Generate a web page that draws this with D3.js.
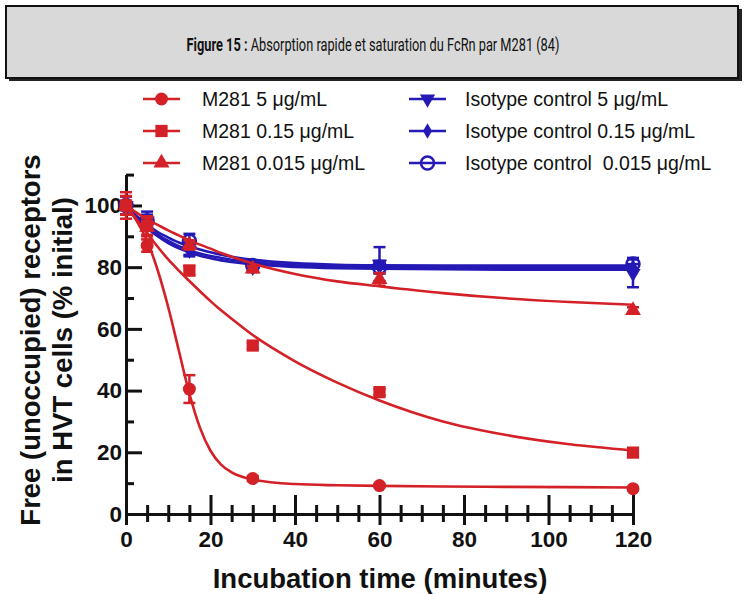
<!DOCTYPE html>
<html lang="en">
<head>
<meta charset="UTF-8">
<script src="https://cdn.jsdelivr.net/npm/d3@7"></script>
<title>Figure 15</title>
<style>
  body { margin: 0; background: #fff; }
  svg { display: block; }
</style>
</head>
<body>
<svg id="mainsvg" width="746" height="594"></svg>
<script>
  // measured points
  const times = [0, 5, 15, 30, 60, 120]
  const m281_5 = [100, 87, 40.5, 11.5, 9.2, 8.2]
  const m281_015 = [100, 93.5, 78.9, 54.6, 39.5, 19.9]
  const m281_0015 = [100, 93, 87.2, 79.4, 76, 66]
  const iso_5 = [100, 95, 85.5, 80, 81, 78]
  const iso_015 = [100, 94, 86, 80, 80, 80]
  const iso_0015 = [100, 95, 88.5, 80.5, 80, 81]
  // error bars (+/-)
  const err_m281_5 = [4.3, 2, 4.5, 0.8, 0.5, 0.5]
  const err_m281_015 = [3, 3, 1.5, 1, 1, 1]
  const err_m281_0015 = [3, 3, 1.5, 1, 2, 1]
  const err_iso_5 = [3, 3, 2, 1.5, 5.5, 4.5]
  const err_iso_015 = [3, 2, 2, 1, 2, 1]
  const err_iso_0015 = [3, 2, 2.3, 1.5, 2, 2]
  // fitted curves
  const fitTimes = [0, 2.5, 5, 7.5, 10, 12.5, 15, 17.5, 20, 22.5, 25, 30, 40, 50, 60, 75, 90, 105, 120]
  const fit_m281_5 = [100, 95, 88.5, 79, 67, 53, 39, 28, 20.5, 16, 13.5, 11.2, 9.7, 9.3, 9.1, 8.9, 8.8, 8.7, 8.6]
  const fit_m281_015 = [100, 95.5, 90.9, 86.6, 82.5, 78.9, 75.5, 72.2, 69, 66, 63.3, 58, 49.5, 42.6, 36.8, 30, 25.6, 22.6, 20.6]
  const fit_m281_0015 = [100, 97.7, 95.5, 93.7, 91.9, 90.3, 88.7, 87.3, 86, 84.6, 83.4, 81.2, 77.8, 75.4, 73.8, 71.6, 69.9, 68.7, 67.8]
  const fit_iso_5 = [100, 96, 92.7, 90, 87.8, 86.1, 84.8, 83.7, 82.9, 82.2, 81.7, 80.9, 80.1, 79.7, 79.5, 79.3, 79.2, 79.2, 79.2]
  const fit_iso_015 = [100, 96.3, 93.2, 90.6, 88.5, 86.8, 85.5, 84.4, 83.6, 83, 82.4, 81.6, 80.6, 80.2, 80, 79.9, 79.8, 79.8, 79.8]
  const fit_iso_0015 = [100, 96.6, 93.8, 91.4, 89.6, 88, 86.8, 85.7, 84.8, 84, 83.4, 82.4, 81.3, 80.8, 80.6, 80.5, 80.5, 80.5, 80.5]

  const xMajor = [0, 20, 40, 60, 80, 100, 120]
  const xMinor = d3.range(5, 120, 5).filter(d => d % 20 !== 0)
  const yMajor = [0, 20, 40, 60, 80, 100]
  const yMinor = [10, 30, 50, 70, 90, 110]

  const RED = '#d42027'
  const BLUE = '#2419b4'

  const series = [
    { name: 'Isotype control 5 \u03bcg/mL', v: iso_5, e: err_iso_5, fit: fit_iso_5, color: BLUE, shape: 'down' },
    { name: 'Isotype control 0.15 \u03bcg/mL', v: iso_015, e: err_iso_015, fit: fit_iso_015, color: BLUE, shape: 'diamond' },
    { name: 'Isotype control  0.015 \u03bcg/mL', v: iso_0015, e: err_iso_0015, fit: fit_iso_0015, color: BLUE, shape: 'open' },
    { name: 'M281 5 \u03bcg/mL', v: m281_5, e: err_m281_5, fit: fit_m281_5, color: RED, shape: 'circle' },
    { name: 'M281 0.15 \u03bcg/mL', v: m281_015, e: err_m281_015, fit: fit_m281_015, color: RED, shape: 'square' },
    { name: 'M281 0.015 \u03bcg/mL', v: m281_0015, e: err_m281_0015, fit: fit_m281_0015, color: RED, shape: 'triangle' },
  ]

  const svg = d3.select('#mainsvg')

  // title box
  svg.append('rect').attr('x', 9).attr('y', 9).attr('width', 733).attr('height', 72).attr('fill', '#222')
  svg.append('rect').attr('x', 6).attr('y', 6).attr('width', 732).attr('height', 72)
    .attr('fill', '#d9d9d9').attr('stroke', '#111').attr('stroke-width', 2)
  const titleG = svg.append('g')
  const title = titleG.append('text').attr('x', 0).attr('y', 0).attr('text-anchor', 'middle')
    .attr('font-family', 'Roboto, sans-serif').attr('font-size', 19).attr('fill', '#111')
  title.append('tspan').attr('font-weight', 'bold').text('Figure 15 :')
  title.append('tspan').text(' Absorption rapide et saturation du FcRn par M281 (84)')
  // squeeze to the narrow width of the original title
  const sx = Math.min(1, 373 / title.node().getComputedTextLength())
  titleG.attr('transform', `translate(373,51) scale(${sx},1)`)

  const x = d3.scaleLinear().domain([0, 120]).range([126, 633])
  const y = d3.scaleLinear().domain([0, 110]).range([514, 174.6])
  const font = 'Liberation Sans, Arial, sans-serif'

  // x axis: ticks crossing the line
  const gx = svg.append('g').attr('transform', `translate(0,${y(0)})`)
  gx.append('g').call(d3.axisBottom(x).tickValues(xMajor).tickSizeInner(11).tickSizeOuter(0).tickPadding(6))
  gx.append('g').call(d3.axisTop(x).tickValues(xMajor).tickSize(19).tickFormat(''))
  gx.append('g').call(d3.axisBottom(x).tickValues(xMinor).tickSize(8).tickFormat(''))
  gx.append('g').call(d3.axisTop(x).tickValues(xMinor).tickSize(9).tickFormat(''))

  // y axis: ticks pointing inside
  const gy = svg.append('g').attr('transform', `translate(${x(0)},0)`)
  gy.append('g').call(d3.axisRight(y).tickValues(yMajor).tickSize(16).tickSizeOuter(0).tickFormat(''))
  gy.append('g').call(d3.axisRight(y).tickValues(yMinor).tickSize(8).tickSizeOuter(0).tickFormat(''))
  gy.append('g').call(d3.axisLeft(y).tickValues(yMajor).tickSize(0).tickPadding(4))

  svg.selectAll('.domain, .tick line').attr('stroke', '#111').attr('stroke-width', 3)
  svg.selectAll('.tick text').attr('font-family', font).attr('font-weight', 'bold')
    .attr('font-size', 22.5).attr('fill', '#111')

  // axis titles
  svg.append('text').attr('x', 380).attr('y', 588).attr('text-anchor', 'middle')
    .attr('font-family', font).attr('font-weight', 'bold').attr('font-size', 27.5)
    .attr('fill', '#111').text('Incubation time (minutes)')
  const yl = svg.append('text').attr('transform', 'translate(40,340) rotate(-90)')
    .attr('text-anchor', 'middle').attr('font-family', font).attr('font-weight', 'bold')
    .attr('font-size', 27.5).attr('fill', '#111')
  yl.append('tspan').attr('x', 0).attr('y', 0).text('Free (unoccupied) receptors')
  yl.append('tspan').attr('x', 0).attr('y', 32).text('in HVT cells (% initial)')

  function marker(g, shape, color, cx, cy) {
    if (shape === 'circle') {
      g.append('circle').attr('cx', cx).attr('cy', cy).attr('r', 6.5).attr('fill', color)
    } else if (shape === 'open') {
      g.append('circle').attr('cx', cx).attr('cy', cy).attr('r', 6.5).attr('fill', 'none')
        .attr('stroke', color).attr('stroke-width', 2.5)
    } else {
      const type = { square: d3.symbolSquare, triangle: d3.symbolTriangle, down: d3.symbolTriangle, diamond: d3.symbolDiamond }[shape]
      const size = { square: 150, triangle: 110, down: 100, diamond: 70 }[shape]
      g.append('path').attr('d', d3.symbol(type, size)())
        .attr('transform', `translate(${cx},${cy})` + (shape === 'down' ? ' rotate(180)' : ''))
        .attr('fill', color)
    }
  }

  const line = d3.line().x(d => x(d[0])).y(d => y(d[1])).curve(d3.curveMonotoneX)
  const plot = svg.append('g')

  series.forEach(s => {
    const g = plot.append('g')
    g.append('path').datum(fitTimes.map((t, i) => [t, s.fit[i]]))
      .attr('d', line).attr('fill', 'none').attr('stroke', s.color).attr('stroke-width', 2.6)
    times.forEach((t, i) => {
      const cx = x(t), lo = y(s.v[i] - s.e[i]), hi = y(s.v[i] + s.e[i])
      g.append('line').attr('x1', cx).attr('x2', cx).attr('y1', lo).attr('y2', hi)
        .attr('stroke', s.color).attr('stroke-width', 2.5)
      ;[lo, hi].forEach(yy => g.append('line').attr('x1', cx - 6).attr('x2', cx + 6)
        .attr('y1', yy).attr('y2', yy).attr('stroke', s.color).attr('stroke-width', 2.5))
      marker(g, s.shape, s.color, cx, y(s.v[i]))
    })
  })

  // legend
  const legendPos = [
    { x: 143, y: 99 }, { x: 143, y: 131 }, { x: 143, y: 163 },
    { x: 409, y: 99 }, { x: 409, y: 131 }, { x: 409, y: 163 },
  ]
  const legendOrder = [3, 4, 5, 0, 1, 2]
  legendOrder.forEach((si, k) => {
    const s = series[si], p = legendPos[k]
    const g = svg.append('g')
    g.append('line').attr('x1', p.x).attr('x2', p.x + 37).attr('y1', p.y).attr('y2', p.y)
      .attr('stroke', s.color).attr('stroke-width', 2.6)
    marker(g, s.shape, s.color, p.x + 18.5, p.y)
    g.append('text').attr('x', p.x + (k < 3 ? 59 : 56)).attr('y', p.y + 7)
      .attr('font-family', font).attr('font-size', 19.5).attr('fill', '#111')
      .attr('xml:space', 'preserve').text(s.name)
  })
</script>
</body>
</html>
